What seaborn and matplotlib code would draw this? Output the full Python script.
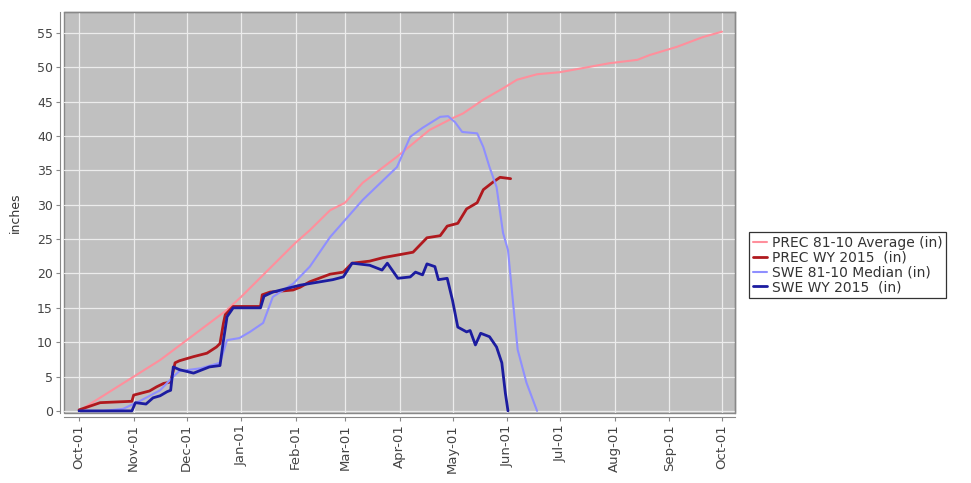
import matplotlib
matplotlib.use("Agg")
import matplotlib.pyplot as plt
import matplotlib.dates as mdates
import numpy as np
import pandas as pd
import seaborn as sns

# Water year 2015 runs from 2014-10-01; positions below are days into the water year
WY_START = pd.Timestamp("2014-10-01")

# Precipitation, 1981-2010 average (inches)
prec_avg_day = [0, 46, 84, 92, 123, 131, 142.5, 151, 161, 180.5, 199, 212, 218, 229.5,
                241, 248.6, 260, 273, 286, 301, 317, 324, 339.5, 354, 365]
prec_avg_val = [0, 7.4, 14.7, 16.6, 24.5, 26.3, 29.2, 30.3, 33.2, 37.0, 40.9, 42.6, 43.3, 45.3,
                47.0, 48.2, 49.0, 49.3, 49.9, 50.6, 51.1, 51.8, 53.0, 54.4, 55.2]

# Precipitation, WY 2015 (inches)
prec_wy_day = [0, 12, 30, 31, 40, 44, 48, 52, 54.5, 57, 65, 72.6, 78, 80, 82, 83, 87.5, 103,
               104, 108.5, 121.5, 125.5, 131, 142.5, 150, 155, 165, 172.5, 189.6, 197.5, 205,
               209, 215, 220, 226, 229.5, 235, 239, 245]
prec_wy_val = [0.15, 1.2, 1.4, 2.3, 2.9, 3.5, 4.0, 4.2, 7.0, 7.3, 7.9, 8.4, 9.3, 9.8, 12.8, 14.0,
               15.2, 15.2, 16.9, 17.3, 17.6, 18.0, 18.8, 19.9, 20.2, 21.5, 21.8, 22.3, 23.1, 25.2,
               25.5, 26.9, 27.3, 29.4, 30.3, 32.2, 33.3, 34.0, 33.8]

# Snow water equivalent, 1981-2010 median (inches)
swe_med_day = [0, 14, 25, 35, 46, 53.5, 57, 69, 80, 84, 91, 97, 104.5, 110, 121.5, 131, 142.5,
               161, 180.5, 188, 195, 205, 209.5, 213.5, 217.5, 226, 229.5, 233, 237, 240.7,
               243.5, 246.4, 249, 254, 260]
swe_med_val = [0, 0, 0.3, 1.5, 3.0, 5.0, 5.8, 6.2, 7.0, 10.3, 10.6, 11.5, 12.8, 16.6, 18.5, 21.0,
               25.3, 30.7, 35.5, 39.9, 41.2, 42.8, 42.9, 42.0, 40.6, 40.4, 38.4, 35.5, 32.6, 25.9,
               23.4, 15.7, 8.9, 4.1, 0]

# Snow water equivalent, WY 2015 (inches)
swe_wy_day = [0, 30, 32, 38, 42, 46, 50, 52, 53.5, 57, 65, 74, 80, 82, 84, 87.5, 103, 105,
              110, 125.5, 144, 150, 155, 165, 172, 175, 181, 188, 191, 195, 197.5, 202, 204,
              209, 212, 215, 220, 222, 225, 228, 233, 237, 240, 242, 243.5]
swe_wy_val = [0, 0, 1.2, 1.0, 1.9, 2.2, 2.8, 3.0, 6.4, 6.0, 5.5, 6.4, 6.6, 10.3, 13.7, 15.0,
              15.0, 16.7, 17.3, 18.3, 19.1, 19.5, 21.5, 21.2, 20.5, 21.5, 19.3, 19.5, 20.2, 19.8,
              21.4, 21.0, 19.1, 19.3, 16.1, 12.2, 11.5, 11.7, 9.6, 11.3, 10.8, 9.3, 7.0, 2.6, 0]

series_names = ["PREC 81-10 Average (in)", "PREC WY 2015  (in)",
                "SWE 81-10 Median (in)", "SWE WY 2015  (in)"]
series_days = [prec_avg_day, prec_wy_day, swe_med_day, swe_wy_day]
series_vals = [prec_avg_val, prec_wy_val, swe_med_val, swe_wy_val]
series_colors = ["#ff8f9c", "#b0191e", "#8f8fff", "#1c1ca0"]
series_widths = [1.5, 2.0, 1.5, 2.0]

frames = []
for name, days, vals in zip(series_names, series_days, series_vals):
    frames.append(pd.DataFrame({
        "date": WY_START + pd.to_timedelta(np.asarray(days), unit="D"),
        "inches": vals,
        "series": name,
    }))
data = pd.concat(frames, ignore_index=True)

sns.set_style("white")
plt.rcParams["font.family"] = ["DejaVu Sans"]

fig = plt.figure(figsize=(9.71, 4.83), dpi=100)
ax = fig.add_axes([0.066, 0.145, 0.691, 0.830])
ax.set_facecolor("#c0c0c0")

for name, color, lw in zip(series_names, series_colors, series_widths):
    sns.lineplot(data=data[data["series"] == name], x="date", y="inches",
                 color=color, linewidth=lw, label=name, ax=ax,
                 estimator=None, sort=False)

ax.set_xlim(WY_START - pd.Timedelta(days=8.5), WY_START + pd.Timedelta(days=372.4))
ax.set_ylim(-0.3, 58.05)
ax.set_yticks(np.arange(0, 56, 5))
ax.xaxis.set_major_locator(mdates.MonthLocator(bymonthday=1))
ax.xaxis.set_major_formatter(mdates.DateFormatter("%b-%d"))

ax.grid(True, color="#ececec", linewidth=0.9)
ax.set_axisbelow(True)
ax.tick_params(axis="both", which="major", length=3, width=0.8, color="#888888",
               labelcolor="#444444", bottom=True, left=True, pad=2)
ax.tick_params(axis="y", labelsize=9)
ax.tick_params(axis="x", labelsize=9.5, labelrotation=90)

for side in ["top", "right"]:
    ax.spines[side].set_color("#888888")
    ax.spines[side].set_linewidth(1.0)
for side in ["left", "bottom"]:
    ax.spines[side].set_position(("outward", 3))
    ax.spines[side].set_color("#888888")
    ax.spines[side].set_linewidth(0.8)
ax.patch.set_edgecolor("#888888")
ax.patch.set_linewidth(1.0)

ax.set_xlabel("")
ax.set_ylabel("inches", fontsize=9, color="#333333", labelpad=11)

leg = ax.legend(loc="upper left", bbox_to_anchor=(0.771, 0.52), bbox_transform=fig.transFigure,
                frameon=True, fancybox=False, fontsize=10, handlelength=1.0,
                handletextpad=0.35, borderpad=0.3, labelspacing=0.05, borderaxespad=0)
leg.get_frame().set_edgecolor("black")
leg.get_frame().set_linewidth(0.9)
for t in leg.get_texts():
    t.set_color("#333333")

fig.savefig("out.png", dpi=100, facecolor="white")
